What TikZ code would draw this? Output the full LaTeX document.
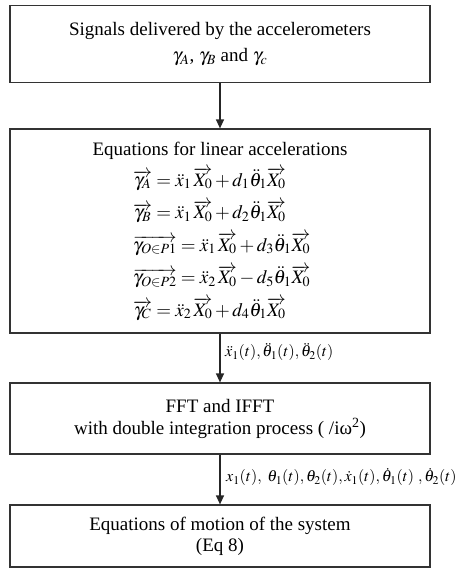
\documentclass[tikz,border=0pt]{standalone}
\usepackage{mathptmx}
\usepackage{fontspec}
\setmainfont{Liberation Serif}
\usetikzlibrary{arrows.meta}

\begin{document}
\begin{tikzpicture}[
  x=1pt, y=-1pt,
  box/.style={draw=black!80, line width=1.2pt, minimum width=420pt, inner sep=0pt, align=center},
  flow/.style={-{Triangle[length=9pt,width=8pt]}, line width=1.2pt, black!85},
  eqn/.style={anchor=base west, inner sep=0pt, font=\fontsize{19}{23}\selectfont},
  flowlabel/.style={anchor=west, inner sep=0pt, font=\fontsize{16}{18}\selectfont},
]
  \useasboundingbox (0,0) rectangle (459,568);
  \node[box, minimum height=77pt, font=\fontsize{19}{26}\selectfont] (signals) at (220,44)
    {Signals delivered by the accelerometers\\ $\gamma_A$, $\gamma_B$ and $\gamma_c$};
  \node[box, minimum height=204pt] (accel) at (220,231) {};
  \node[eqn, anchor=base] (accTitle) at (220,155) {Equations for linear accelerations};
  \foreach \eq [count=\i] in {
    {\overrightarrow{\gamma_A} = \ddot{x}_1\,\overrightarrow{X_0} + d_1\ddot{\theta}_1\overrightarrow{X_0}},
    {\overrightarrow{\gamma_B} = \ddot{x}_1\,\overrightarrow{X_0} + d_2\ddot{\theta}_1\overrightarrow{X_0}},
    {\overrightarrow{\gamma_{O\in P1}} = \ddot{x}_1\,\overrightarrow{X_0} + d_3\ddot{\theta}_1\overrightarrow{X_0}},
    {\overrightarrow{\gamma_{O\in P2}} = \ddot{x}_2\,\overrightarrow{X_0} - d_5\ddot{\theta}_1\overrightarrow{X_0}},
    {\overrightarrow{\gamma_C} = \ddot{x}_2\,\overrightarrow{X_0} + d_4\ddot{\theta}_1\overrightarrow{X_0}}
  }
    \node[eqn] (eq\i) at (133, 153.5+32.5*\i) {$\eq$};
  \node[box, minimum height=71pt, font=\fontsize{19}{22}\selectfont] (fft) at (220,418.5)
    {FFT and IFFT\\with double integration process ( /iω\textsuperscript{2})};
  \node[box, minimum height=62pt, font=\fontsize{19}{21}\selectfont] (motion) at (220,536)
    {Equations of motion of the system\\(Eq 8)};

  \draw[flow] (signals) -- (accel);
  \draw[flow] (accel) -- (fft);
  \draw[flow] (fft) -- (motion);

  % signals carried between the steps
  \node[flowlabel] (accOut) at (225,352) {$\ddot{x}_1(t),\ddot{\theta}_1(t),\ddot{\theta}_2(t)$};
  \node[flowlabel] (fftOut) at (226,477)
    {$x_1(t),\ \theta_1(t),\theta_2(t),\dot{x}_1(t),\dot{\theta}_1(t)\ ,\dot{\theta}_2(t)$};
\end{tikzpicture}
\end{document}
